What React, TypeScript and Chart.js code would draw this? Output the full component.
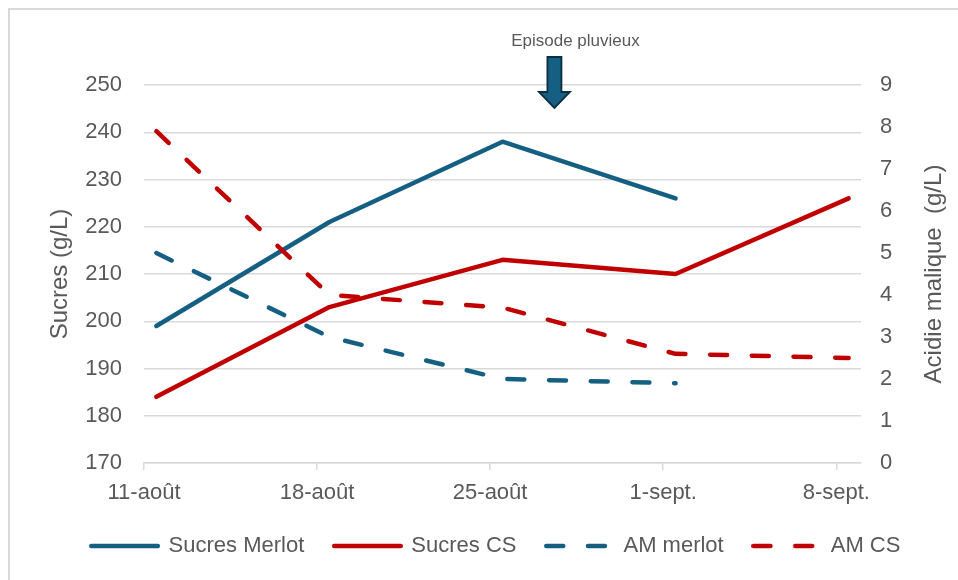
import React, { useEffect, useRef } from 'react';
import { Chart, registerables } from 'chart.js';

Chart.register(...registerables);

// ---- data ----
const tickLabels = ['11-août', '18-août', '25-août', '1-sept.', '8-sept.'];
const dayOffsets = [0, 7, 14, 21, 28];
const axisEndDay = 29;
const sucresMerlot = [199, 221, 238, 226, null];
const sucresCS = [184, 203, 213, 210, 226];
const amMerlot = [5.0, 3.0, 2.0, 1.9, null];
const amCS = [7.9, 4.0, 3.7, 2.6, 2.5];
const rainDay = 16.6;
const rainLabel = 'Episode pluvieux';
const leftTitle = 'Sucres (g/L)';
const rightTitle = 'Acidie malique  (g/L)';

// ---- styles ----
const BLUE = '#156082';
const RED = '#C00000';
const GRID = '#D9D9D9';
const TEXT = '#595959';
const FONT = "'Liberation Sans', Arial, sans-serif";
const LINE_W = 4.5;
const DASH = [17, 24.7];

const toPoints = (vals: (number | null)[]) =>
  vals
    .map((v, i) => ({ x: dayOffsets[i] + 0.5, y: v }))
    .filter((p) => p.y !== null);

// legend sample (line with optional dash) as a small canvas used as pointStyle
const makeSample = (color: string, dash: number[] | undefined) => {
  const c = document.createElement('canvas');
  c.width = 71;
  c.height = 8;
  const g = c.getContext('2d')!;
  g.strokeStyle = color;
  g.lineWidth = LINE_W;
  g.lineCap = 'round';
  g.setLineDash(dash || []);
  g.beginPath();
  g.moveTo(2.25, 4);
  g.lineTo(68.75, 4);
  g.stroke();
  return c;
};

const annotPlugin = {
  id: 'annot',
  beforeDraw(chart: any) {
    const ctx = chart.ctx;
    ctx.save();
    ctx.strokeStyle = GRID;
    ctx.lineWidth = 2;
    ctx.strokeRect(9, 9, chart.width + 20, chart.height + 20);
    ctx.restore();
  },
  afterDraw(chart: any) {
    const ctx = chart.ctx;
    const area = chart.chartArea;
    const xs = chart.scales.x;
    const cx = xs.getPixelForValue(rainDay);
    const top = area.top;
    // arrow
    ctx.save();
    ctx.beginPath();
    ctx.moveTo(cx - 7, top - 28);
    ctx.lineTo(cx + 7, top - 28);
    ctx.lineTo(cx + 7, top + 7);
    ctx.lineTo(cx + 15.5, top + 7);
    ctx.lineTo(cx, top + 23);
    ctx.lineTo(cx - 15.5, top + 7);
    ctx.lineTo(cx - 7, top + 7);
    ctx.closePath();
    ctx.fillStyle = BLUE;
    ctx.fill();
    ctx.lineWidth = 1.8;
    ctx.strokeStyle = '#0B2F40';
    ctx.lineJoin = 'miter';
    ctx.stroke();
    // label
    ctx.fillStyle = TEXT;
    ctx.font = `17px ${FONT}`;
    ctx.textAlign = 'center';
    ctx.textBaseline = 'middle';
    ctx.fillText(rainLabel, cx + 21, top - 44);
    ctx.restore();
    // right axis title (reads bottom-to-top)
    const y1 = chart.scales.y1;
    ctx.save();
    ctx.translate(y1.right - 24, (area.top + area.bottom) / 2);
    ctx.rotate(-Math.PI / 2);
    ctx.fillStyle = TEXT;
    ctx.font = `24px ${FONT}`;
    ctx.textAlign = 'center';
    ctx.textBaseline = 'middle';
    ctx.fillText(rightTitle, 0, 0);
    ctx.restore();
  },
};

export default function App() {
  const ref = useRef<HTMLCanvasElement | null>(null);

  useEffect(() => {
    if (!ref.current) return;
    const common = {
      pointRadius: 0,
      pointHoverRadius: 0,
      borderWidth: LINE_W,
      borderCapStyle: 'round',
      borderJoinStyle: 'round',
      tension: 0,
      fill: false,
    };
    const defaultGen = (Chart.defaults as any).plugins.legend.labels.generateLabels;
    const chart = new Chart(ref.current, {
      type: 'line',
      data: {
        datasets: [
          { ...common, label: 'Sucres Merlot', data: toPoints(sucresMerlot), yAxisID: 'y', borderColor: BLUE, backgroundColor: BLUE, order: 4 },
          { ...common, label: 'Sucres CS', data: toPoints(sucresCS), yAxisID: 'y', borderColor: RED, backgroundColor: RED, order: 3 },
          { ...common, label: 'AM merlot', data: toPoints(amMerlot), yAxisID: 'y1', borderColor: BLUE, backgroundColor: BLUE, borderDash: DASH, order: 2 },
          { ...common, label: 'AM CS', data: toPoints(amCS), yAxisID: 'y1', borderColor: RED, backgroundColor: RED, borderDash: DASH, order: 1 },
        ] as any,
      },
      options: {
        animation: false,
        responsive: false,
        devicePixelRatio: 1,
        layout: { padding: { left: 34, right: 0, top: 85, bottom: 13 } },
        plugins: {
          tooltip: { enabled: false },
          legend: {
            position: 'bottom',
            labels: {
              usePointStyle: true,
              pointStyleWidth: 66,
              padding: 30,
              color: TEXT,
              font: { family: FONT, size: 22 },
              sort: (a: any, b: any) => a.datasetIndex - b.datasetIndex,
              generateLabels: (ch: any) => {
                const items = defaultGen(ch);
                return items.map((it: any) => {
                  const ds = ch.data.datasets[it.datasetIndex];
                  return { ...it, pointStyle: makeSample(ds.borderColor, ds.borderDash) };
                });
              },
            },
          },
        },
        scales: {
          x: {
            type: 'linear',
            min: 0,
            max: axisEndDay,
            afterBuildTicks: (s: any) => {
              s.ticks = dayOffsets.map((v) => ({ value: v }));
            },
            afterFit: (s: any) => {
              s.height = 42;
            },
            ticks: {
              callback: (_v: any, i: number) => tickLabels[i] ?? '',
              color: TEXT,
              font: { family: FONT, size: 22 },
              padding: 10,
              maxRotation: 0,
              autoSkip: false,
            },
            grid: { drawOnChartArea: false, drawTicks: true, tickLength: 7, color: GRID, lineWidth: 1.5 },
            border: { display: true, color: GRID, width: 1.5 },
          },
          y: {
            position: 'left',
            min: 170,
            max: 250,
            afterFit: (s: any) => {
              s.width = 110;
            },
            ticks: { stepSize: 10, color: TEXT, font: { family: FONT, size: 22 }, padding: 22 },
            grid: { color: GRID, lineWidth: 1.5, drawTicks: false },
            border: { display: false },
            title: { display: true, text: leftTitle, color: TEXT, font: { family: FONT, size: 24 }, padding: { top: 12, bottom: 0 } },
          },
          y1: {
            position: 'right',
            min: 0,
            max: 9,
            afterFit: (s: any) => {
              s.width = 97;
            },
            ticks: { stepSize: 1, color: TEXT, font: { family: FONT, size: 22 }, padding: 19 },
            grid: { display: false, drawTicks: false },
            border: { display: false },
          },
        },
      } as any,
      plugins: [annotPlugin],
    });
    return () => chart.destroy();
  }, []);

  return (
    <div style={{ position: 'fixed', left: 0, top: 0, width: 958, height: 580, overflow: 'hidden', background: '#fff' }}>
      <canvas ref={ref} width={958} height={580} style={{ display: 'block' }} />
    </div>
  );
}
